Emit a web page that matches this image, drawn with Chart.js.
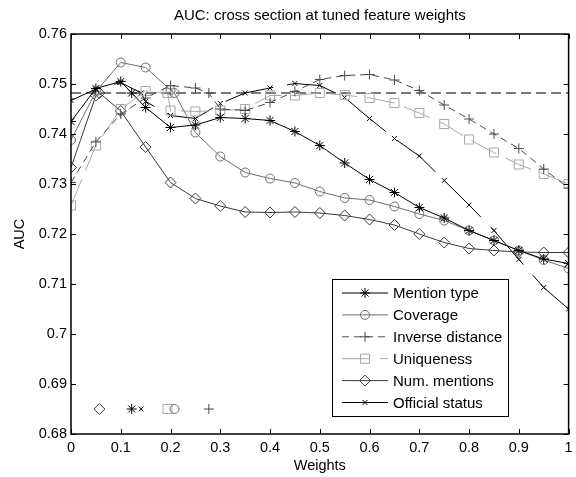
<!DOCTYPE html>
<html lang="en">
<head>
<meta charset="UTF-8">
<title>AUC: cross section at tuned feature weights</title>
<script src="https://cdn.jsdelivr.net/npm/chart.js"></script>
<style>
  html, body { margin: 0; padding: 0; background: #fff; }
  .wrap { width: 576px; height: 477px; position: relative; }
</style>
</head>
<body>
<div class="wrap"><canvas id="aucChart"></canvas></div>
<script>
// x grid of the sweep
const weights = [0, 0.05, 0.1, 0.15, 0.2, 0.25, 0.3, 0.35, 0.4, 0.45, 0.5,
                 0.55, 0.6, 0.65, 0.7, 0.75, 0.8, 0.85, 0.9, 0.95, 1];

// AUC per feature
const mentionType     = [0.7425, 0.7491, 0.7505, 0.7453, 0.7413, 0.7418, 0.7433, 0.7431, 0.7427, 0.7405, 0.7377,
                         0.7342, 0.7309, 0.7283, 0.7253, 0.7232, 0.7207, 0.7187, 0.7167, 0.7150, 0.7141];
const coverage        = [0.7388, 0.7485, 0.7543, 0.7533, 0.7488, 0.7403, 0.7355, 0.7323, 0.7311, 0.7302, 0.7285,
                         0.7272, 0.7268, 0.7255, 0.7240, 0.7227, 0.7207, 0.7187, 0.7167, 0.7148, 0.7131];
const inverseDistance = [0.7303, 0.7384, 0.7440, 0.7472, 0.7497, 0.7492, 0.7450, 0.7447, 0.7463, 0.7485, 0.7509,
                         0.7517, 0.7519, 0.7508, 0.7487, 0.7458, 0.7430, 0.7400, 0.7371, 0.7330, 0.7292];
const uniqueness      = [0.7257, 0.7377, 0.7450, 0.7486, 0.7447, 0.7445, 0.7447, 0.7450, 0.7477, 0.7477, 0.7482,
                         0.7478, 0.7472, 0.7462, 0.7442, 0.7420, 0.7389, 0.7363, 0.7339, 0.7320, 0.7300];
const numMentions     = [0.7333, 0.7477, 0.7446, 0.7374, 0.7303, 0.7271, 0.7256, 0.7244, 0.7243, 0.7244, 0.7242,
                         0.7237, 0.7229, 0.7218, 0.7200, 0.7183, 0.7171, 0.7167, 0.7164, 0.7163, 0.7163];
const officialStatus  = [0.7467, 0.7490, 0.7503, 0.7465, 0.7437, 0.7431, 0.7461, 0.7482, 0.7492, 0.7501, 0.7497,
                         0.7473, 0.7431, 0.7391, 0.7356, 0.7307, 0.7258, 0.7207, 0.7149, 0.7093, 0.7050];

const seriesNames  = ['Mention type', 'Coverage', 'Inverse distance', 'Uniqueness', 'Num. mentions', 'Official status'];
const tunedWeights = [0.122, 0.208, 0.277, 0.194, 0.057, 0.141];
const tunedAuc     = 0.7482;   // dashed reference line
const tunedMarkRow = 0.685;    // row of markers showing the tuned weights

const xTicks = [0, 0.1, 0.2, 0.3, 0.4, 0.5, 0.6, 0.7, 0.8, 0.9, 1];
const yTicks = [0.68, 0.69, 0.7, 0.71, 0.72, 0.73, 0.74, 0.75, 0.76];

const chartTitle = 'AUC: cross section at tuned feature weights';
const FONT = '"Liberation Sans", Arial, Helvetica, sans-serif';

const allSeries = [mentionType, coverage, inverseDistance, uniqueness, numMentions, officialStatus];
const styles = [
  { color: '#000000', point: 'star',     radius: 5,   dash: [],       dashOffset: 0 },
  { color: '#6e6e6e', point: 'circle',   radius: 4.5, dash: [],       dashOffset: 0 },
  { color: '#4a4a4a', point: 'cross',    radius: 5,   dash: [7, 5],   dashOffset: 0 },
  { color: '#a8a8a8', point: 'rect',     radius: 6.4, dash: [28, 10], dashOffset: 0 },
  { color: '#3a3a3a', point: 'rectRot',  radius: 5.5, dash: [],       dashOffset: 0 },
  { color: '#000000', point: 'crossRot', radius: 3.5, dash: [50, 14], dashOffset: 18 }
];

function seriesPoints(values, tw) {
  const pts = weights.map((w, i) => ({ x: w, y: values[i] }));
  pts.push({ x: tw, y: tunedAuc });
  return pts.sort((a, b) => a.x - b.x);
}

const datasets = [];
allSeries.forEach((vals, i) => {
  const s = styles[i];
  datasets.push({
    label: seriesNames[i],
    data: seriesPoints(vals, tunedWeights[i]),
    showLine: true,
    borderColor: s.color,
    borderWidth: 1,
    borderDash: s.dash,
    borderDashOffset: s.dashOffset,
    pointStyle: s.point,
    pointRadius: s.radius,
    pointBorderColor: s.color,
    pointBackgroundColor: 'rgba(0,0,0,0)',
    pointBorderWidth: 1
  });
});
// markers on the bottom row
allSeries.forEach((vals, i) => {
  const s = styles[i];
  datasets.push({
    label: '',
    data: [{ x: tunedWeights[i], y: tunedMarkRow }],
    showLine: false,
    pointStyle: s.point,
    pointRadius: s.radius,
    pointBorderColor: s.color,
    pointBackgroundColor: 'rgba(0,0,0,0)',
    pointBorderWidth: 1
  });
});
// baseline
datasets.push({
  label: '',
  data: [{ x: 0, y: tunedAuc }, { x: 1, y: tunedAuc }],
  showLine: true,
  borderColor: '#7a7a7a',
  borderWidth: 2,
  borderDash: [10, 5],
  pointRadius: 0
});

// box, inward ticks, title and legend, MATLAB style
const frame = {
  id: 'frame',
  afterDraw(chart) {
    const { ctx, chartArea: a, scales: { x, y } } = chart;
    ctx.save();
    ctx.strokeStyle = '#000';
    ctx.lineWidth = 1;
    ctx.setLineDash([]);
    ctx.beginPath();
    x.ticks.forEach(t => {
      const px = Math.round(x.getPixelForValue(t.value)) + 0.5;
      ctx.moveTo(px, a.bottom); ctx.lineTo(px, a.bottom - 5);
      ctx.moveTo(px, a.top);    ctx.lineTo(px, a.top + 5);
    });
    y.ticks.forEach(t => {
      const py = Math.round(y.getPixelForValue(t.value)) + 0.5;
      ctx.moveTo(a.left, py);  ctx.lineTo(a.left + 5, py);
      ctx.moveTo(a.right, py); ctx.lineTo(a.right - 5, py);
    });
    ctx.stroke();
    ctx.lineWidth = 1.5;
    ctx.strokeRect(a.left, a.top, a.right - a.left, a.bottom - a.top);

    // title
    ctx.fillStyle = '#000';
    ctx.font = '15px ' + FONT;
    ctx.textAlign = 'center';
    ctx.textBaseline = 'middle';
    ctx.fillText(chartTitle, (a.left + a.right) / 2, 16);

    // legend box
    const lx = 332, ly = 279, lw = 176, lh = 137;
    ctx.fillStyle = '#fff';
    ctx.fillRect(lx, ly, lw, lh);
    ctx.lineWidth = 1;
    ctx.strokeStyle = '#000';
    ctx.strokeRect(lx + 0.5, ly + 0.5, lw, lh);
    ctx.textAlign = 'left';
    seriesNames.forEach((name, i) => {
      const s = styles[i];
      const ry = 293 + i * 21.9;
      ctx.strokeStyle = s.color;
      ctx.lineWidth = 1;
      ctx.setLineDash(s.dash);
      ctx.lineDashOffset = 0;
      ctx.beginPath();
      ctx.moveTo(342, ry); ctx.lineTo(388, ry);
      ctx.stroke();
      ctx.setLineDash([]);
      ctx.fillStyle = 'rgba(0,0,0,0)';
      Chart.helpers.drawPoint(ctx, { pointStyle: s.point, radius: s.radius, rotation: 0, borderWidth: 1 }, 365, ry);
      ctx.fillStyle = '#000';
      ctx.fillText(name, 393, ry + 1);
    });
    ctx.restore();
  }
};

new Chart(document.getElementById('aucChart'), {
  type: 'scatter',
  data: { datasets },
  options: {
    responsive: true,
    maintainAspectRatio: false,
    animation: false,
    layout: { padding: { top: 34, right: 1, left: 0, bottom: 0 } },
    plugins: {
      legend: { display: false },
      tooltip: { enabled: false }
    },
    scales: {
      x: {
        type: 'linear',
        min: 0, max: 1,
        grid: { display: false, drawTicks: false },
        border: { display: false },
        afterBuildTicks: s => { s.ticks = xTicks.map(v => ({ value: v })); },
        afterFit: s => { s.height = 43; s.paddingLeft = 0; s.paddingRight = 0; },
        ticks: {
          padding: 5, color: '#000', maxRotation: 0, autoSkip: false,
          font: { family: FONT, size: 14.5 },
          callback: v => String(Number(v.toFixed(2)))
        },
        title: {
          display: true, text: 'Weights', color: '#000',
          font: { family: FONT, size: 14.5 },
          padding: { top: 0, bottom: 2 }
        }
      },
      y: {
        type: 'linear',
        min: 0.68, max: 0.76,
        grid: { display: false, drawTicks: false },
        border: { display: false },
        afterBuildTicks: s => { s.ticks = yTicks.map(v => ({ value: v })); },
        afterFit: s => { s.width = 71; s.paddingTop = 0; s.paddingBottom = 0; },
        ticks: {
          padding: 4, color: '#000', autoSkip: false,
          font: { family: FONT, size: 14.5 },
          callback: v => String(Number(v.toFixed(2)))
        },
        title: {
          display: true, text: 'AUC', color: '#000',
          font: { family: FONT, size: 14.5 },
          padding: { top: 11, bottom: 0 }
        }
      }
    }
  },
  plugins: [frame]
});
</script>
</body>
</html>
